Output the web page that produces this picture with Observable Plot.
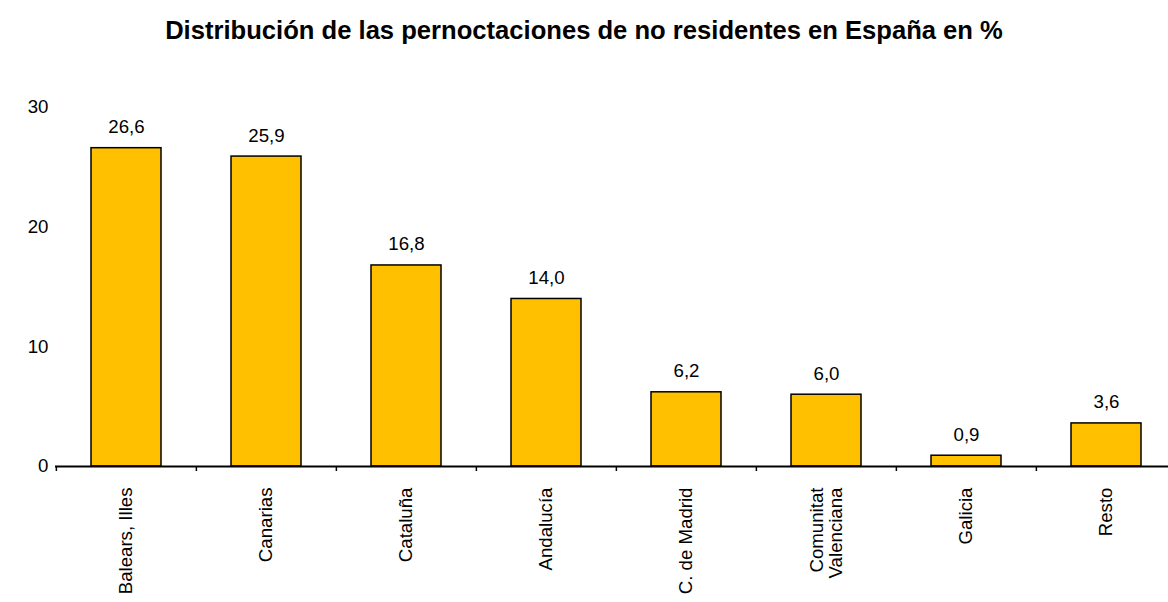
<!DOCTYPE html>
<html>
<head>
<meta charset="utf-8">
<script src="https://cdn.jsdelivr.net/npm/d3@7"></script>
<script src="https://cdn.jsdelivr.net/npm/@observablehq/plot@0.6"></script>
<style>
  html, body { margin: 0; padding: 0; background: #fff; }
  body { width: 1168px; height: 602px; overflow: hidden; font-family: "Liberation Sans", Arial, sans-serif; }
  #title { height: 62px; line-height: 60px; text-align: center; font-weight: bold; font-size: 25.6px; color: #000; }
</style>
</head>
<body>
<div id="title">Distribución de las pernoctaciones de no residentes en España en %</div>
<div id="chart"></div>
<script>
const categories = ["Balears, Illes", "Canarias", "Cataluña", "Andalucía", "C. de Madrid", "Comunitat\nValenciana", "Galicia", "Resto"];
const values = [26.6, 25.9, 16.8, 14.0, 6.2, 6.0, 0.9, 3.6];
const yTicks = [0, 10, 20, 30];

const data = categories.map((c, i) => ({category: c, value: values[i]}));
const fmt = v => v.toFixed(1).replace(".", ",");

const width = 1168, height = 540;
const marginLeft = 55, marginRight = -9;
const bandwidth = (width - marginLeft - marginRight) / categories.length;
const fs = 18.67;

const chart = Plot.plot({
  width, height,
  marginTop: 45, marginBottom: 136, marginLeft, marginRight,
  style: {fontFamily: "'Liberation Sans', Arial, sans-serif", fontSize: fs + "px", color: "#000", background: "#fff", overflow: "hidden"},
  x: {type: "band", domain: categories, padding: 0, label: null},
  y: {domain: [0, 30], label: null},
  marks: [
    Plot.barY(data, {x: "category", y: "value", fill: "#FFC000", stroke: "#000", strokeWidth: 1.5, insetLeft: 35, insetRight: 35}),
    Plot.text(data, {x: "category", y: "value", text: d => fmt(d.value), dy: -21, fontSize: fs, fill: "#000"}),
    Plot.axisY({ticks: yTicks, tickSize: 0, tickPadding: 7, fontSize: fs, label: null}),
    Plot.axisX({tickSize: 0, tickRotate: -90, tickPadding: 21, fontSize: fs, label: null}),
    Plot.axisX({tickSize: 5, tickFormat: () => "", dx: -bandwidth / 2, strokeWidth: 1.5, label: null}),
    Plot.ruleY([0], {stroke: "#000", strokeWidth: 2})
  ]
});
document.getElementById("chart").appendChild(chart);
</script>
</body>
</html>
